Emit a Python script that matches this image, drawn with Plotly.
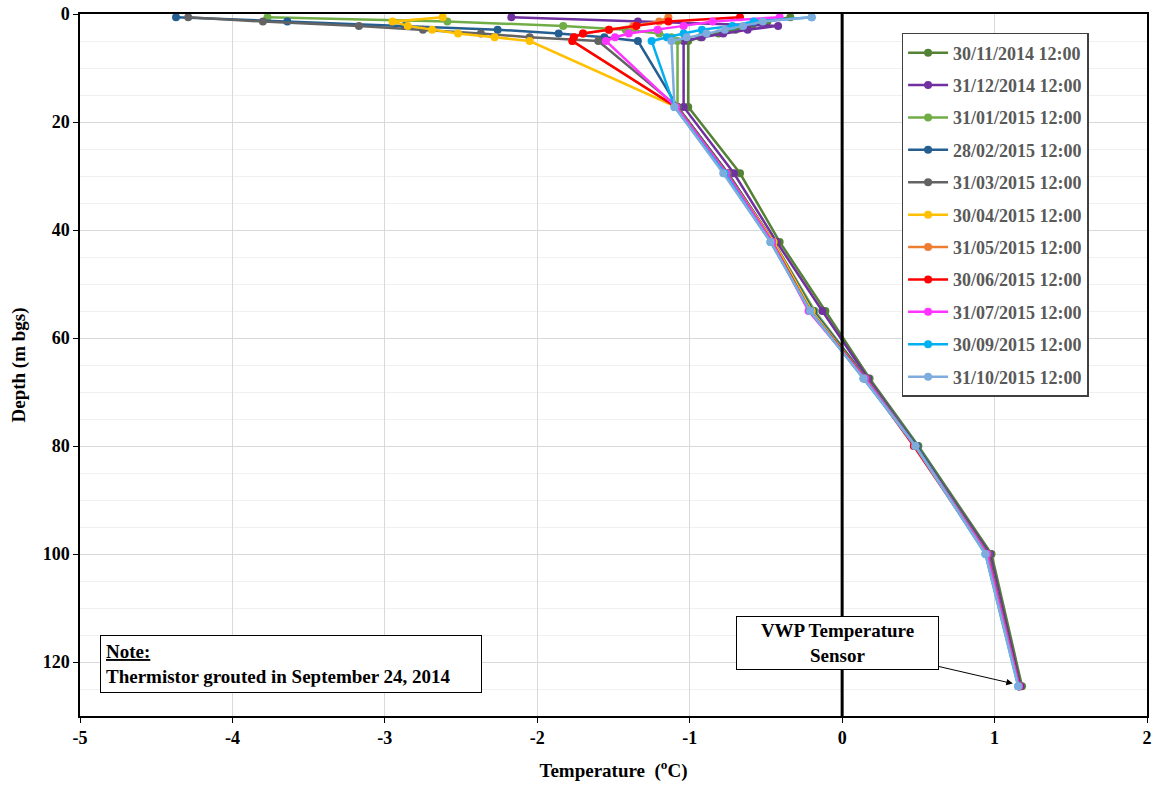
import plotly.graph_objects as go

depths = [0.6, 1.4, 2.2, 2.9, 3.6, 4.3, 5.0, 17.2, 29.5, 42.2, 55.0, 67.5, 80.0, 100.0, 124.5]

names = ["30/11/2014 12:00", "31/12/2014 12:00", "31/01/2015 12:00", "28/02/2015 12:00",
         "31/03/2015 12:00", "30/04/2015 12:00", "31/05/2015 12:00", "30/06/2015 12:00",
         "31/07/2015 12:00", "30/09/2015 12:00", "31/10/2015 12:00"]

colors = ["#548235", "#7030A0", "#70AD47", "#255E91", "#636363", "#FFC000",
          "#ED7D31", "#FF0000", "#FF33FF", "#00B0F0", "#7EACDC"]

t_nov14 = [-0.34, -0.49, -0.59, -0.70, -0.81, -0.93, -1.01, -1.01, -0.67, -0.41, -0.11, 0.18, 0.50, 0.98, 1.18]
t_dec14 = [-2.17, -1.34, -0.42, -0.62, -0.78, -0.92, -1.04, -1.04, -0.71, -0.43, -0.13, 0.17, 0.49, 0.97, 1.17]
t_jan15 = [-3.77, -2.59, -1.83, -1.42, -1.20, -1.12, -1.08, -1.08, -0.75, -0.45, -0.18, 0.16, 0.49, 0.96, 1.16]
t_feb15 = [-4.37, -3.64, -2.87, -2.26, -1.86, -1.56, -1.34, -1.08, -0.75, -0.45, -0.19, 0.16, 0.49, 0.96, 1.16]
t_mar15 = [-4.29, -3.80, -3.17, -2.75, -2.37, -2.05, -1.60, -1.08, -0.75, -0.45, -0.20, 0.16, 0.48, 0.96, 1.16]
t_apr15 = [-2.62, -2.95, -2.85, -2.69, -2.52, -2.28, -2.05, -1.09, -0.76, -0.45, -0.20, 0.15, 0.48, 0.95, 1.16]
t_may15 = [-1.14, -1.20, -1.37, -1.53, -1.70, -1.76, -1.77, -1.09, -0.76, -0.46, -0.21, 0.15, 0.48, 0.95, 1.16]
t_jun15 = [-0.67, -1.14, -1.35, -1.53, -1.70, -1.76, -1.77, -1.09, -0.76, -0.46, -0.21, 0.15, 0.47, 0.95, 1.16]
t_jul15 = [-0.41, -0.85, -1.04, -1.21, -1.40, -1.49, -1.55, -1.09, -0.76, -0.46, -0.22, 0.15, 0.48, 0.95, 1.16]
t_sep15 = [-0.20, -0.58, -0.72, -0.92, -1.04, -1.15, -1.25, -1.10, -0.77, -0.47, -0.21, 0.14, 0.48, 0.94, 1.155]
t_oct15 = [-0.20, -0.52, -0.65, -0.77, -0.89, -1.02, -1.12, -1.10, -0.78, -0.47, -0.21, 0.14, 0.48, 0.94, 1.155]

series = [t_nov14, t_dec14, t_jan15, t_feb15, t_mar15, t_apr15, t_may15, t_jun15, t_jul15, t_sep15, t_oct15]

x_ticks = [-5, -4, -3, -2, -1, 0, 1, 2]
x_ticklabels = ["-5", "-4", "-3", "-2", "-1", "0", "1", "2"]
y_ticks = [0, 20, 40, 60, 80, 100, 120]

FONT = "Liberation Serif"

fig = go.Figure()
for i, (nm, col, vals) in enumerate(zip(names, colors, series)):
    fig.add_trace(go.Scatter(
        x=vals, y=depths, mode="lines+markers", name="<b>" + nm + "</b>",
        line=dict(color=col, width=2.5),
        marker=dict(color=col, size=8),
        legendgroup=f"g{i}",
    ))

# zero line
fig.add_shape(type="line", x0=0, x1=0, y0=0, y1=130, xref="x", yref="y",
              line=dict(color="black", width=3), layer="above")

fig.update_layout(
    width=1159, height=788,
    margin=dict(l=80, r=12, t=14, b=72),
    paper_bgcolor="white", plot_bgcolor="white",
    font=dict(family=FONT, size=15, color="black"),
    showlegend=True,
    legend=dict(
        x=0.770, y=0.973, xanchor="left", yanchor="top",
        bordercolor="#404040", borderwidth=1.5, bgcolor="white",
        font=dict(family=FONT, size=18, color="#595959"),
        traceorder="grouped", tracegroupgap=6,
        itemwidth=40,
    ),
    xaxis=dict(
        range=[-5, 2], tickvals=x_ticks, ticktext=["<b>" + t + "</b>" for t in x_ticklabels],
        showgrid=True, gridcolor="#D9D9D9", gridwidth=1,
        showline=True, linecolor="black", linewidth=1.5, mirror=True,
        ticks="outside", ticklen=5, tickcolor="black",
        zeroline=False, automargin=False,
        tickfont=dict(family=FONT, size=18),
        title=dict(text="<b>Temperature  (<sup>o</sup>C)</b>", font=dict(family=FONT, size=19), standoff=16),
    ),
    yaxis=dict(
        range=[130, 0], tickvals=y_ticks, ticktext=["<b>%d</b>" % v for v in y_ticks],
        showgrid=True, gridcolor="#D9D9D9", gridwidth=1,
        minor=dict(dtick=5, showgrid=True, gridcolor="#F0F0F0", gridwidth=1),
        showline=True, linecolor="black", linewidth=1.5, mirror=True,
        ticks="outside", ticklen=5, tickcolor="black",
        zeroline=False, automargin=False,
        tickfont=dict(family=FONT, size=18),
        title=dict(text="<b>Depth (m bgs)</b>", font=dict(family=FONT, size=19), standoff=12),
    ),
)

fig.add_annotation(
    xref="paper", yref="paper", x=0.0187, y=0.033, xanchor="left", yanchor="bottom",
    text="<b><u>Note:</u></b><br><b>Thermistor grouted in September 24, 2014</b>",
    showarrow=False, align="left",
    font=dict(family=FONT, size=19, color="black"),
    bordercolor="black", borderwidth=1, borderpad=5, bgcolor="white",
    width=370,
)

fig.add_annotation(
    xref="x", yref="y", x=1.12, y=124.0,
    axref="x", ayref="y", ax=-0.03, ay=116.5,
    text="<b>VWP Temperature</b><br><b>Sensor</b>",
    showarrow=True, arrowhead=2, arrowsize=1.3, arrowwidth=1, arrowcolor="black",
    align="center",
    font=dict(family=FONT, size=19, color="black"),
    bordercolor="black", borderwidth=1, borderpad=3, bgcolor="white",
    width=195,
)

fig.write_html("out.html")
